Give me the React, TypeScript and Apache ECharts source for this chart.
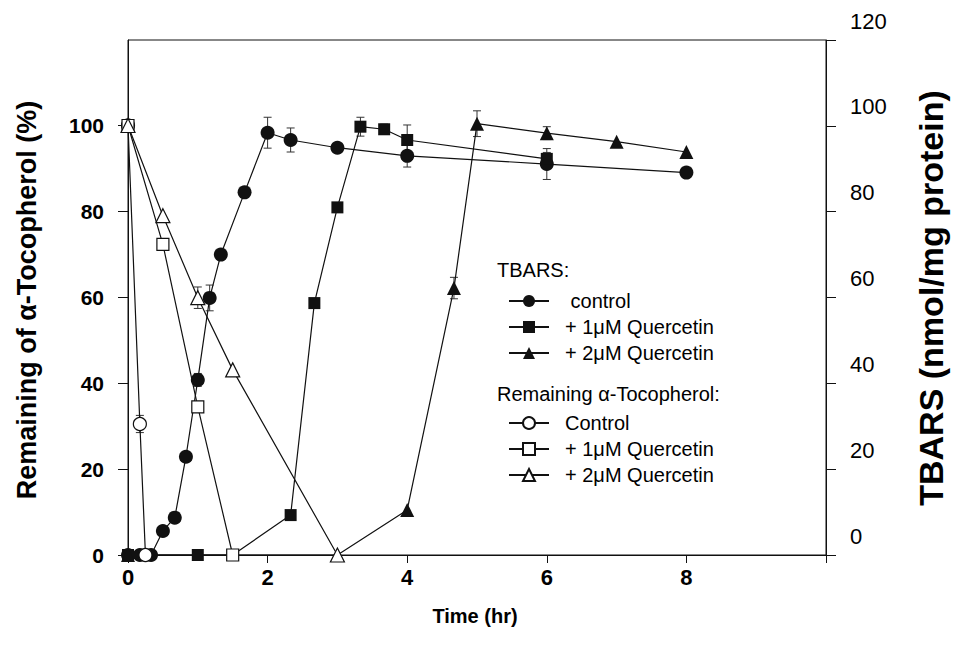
import React, { useEffect, useRef } from "react";
import * as echarts from "echarts";

// ---- Data ----
const xTicks = [0, 2, 4, 6, 8];

// TBARS (right axis, filled symbols)
const tbarsControlTimes = [0, 0.17, 0.33, 0.5, 0.67, 0.83, 1.0, 1.17, 1.33, 1.67, 2.0, 2.33, 3.0, 4.0, 6.0, 8.0];
const tbarsControlValues = [0, 0, 0, 5.6, 8.7, 22.9, 40.8, 59.9, 70, 84.5, 98.4, 96.7, 94.9, 93, 91.1, 89.1];

const tbarsQ1Times = [0, 1.0, 1.5, 2.33, 2.67, 3.0, 3.33, 3.67, 4.0, 6.0];
const tbarsQ1Values = [0, 0, 0, 9.3, 58.7, 81, 99.8, 99.2, 96.7, 92.3];

const tbarsQ2Times = [0, 3.0, 4.0, 4.67, 5.0, 6.0, 7.0, 8.0];
const tbarsQ2Values = [0, 0, 10.5, 62.2, 100.5, 98.3, 96.3, 93.9];

// Remaining alpha-tocopherol (left axis, open symbols)
const remControlTimes = [0, 0.17, 0.25];
const remControlValues = [100, 30.5, 0];

const remQ1Times = [0, 0.5, 1.0, 1.5];
const remQ1Values = [100, 72.3, 34.5, 0];

const remQ2Times = [0, 0.5, 1.0, 1.5, 3.0];
const remQ2Values = [100, 79, 59.9, 43.1, 0];

// Error bars: [time, value, half-width]
const tbarsErrors = [
  [1.0, 40.8, 1.5],
  [1.17, 59.9, 3],
  [2.0, 98.4, 3.6],
  [2.33, 96.7, 2.8],
  [4.0, 93, 2.6],
  [6.0, 91.1, 3.6],
  [3.33, 99.8, 2.2],
  [3.67, 99.2, 1.2],
  [4.0, 96.7, 3.5],
  [6.0, 92.3, 1.5],
  [4.67, 62.2, 2.5],
  [5.0, 100.5, 3],
  [6.0, 98.3, 1.5],
];
const remErrors = [
  [0.17, 30.5, 2],
  [1.0, 59.9, 2.5],
];

const SERIES_NAMES = {
  tc: "TBARS|control",
  t1: "TBARS|+ 1μM Quercetin",
  t2: "TBARS|+ 2μM Quercetin",
  rc: "REM|Control",
  r1: "REM|+ 1μM Quercetin",
  r2: "REM|+ 2μM Quercetin",
};

const zip = (xs: number[], ys: number[]) => xs.map((x, i) => [x, ys[i]]);

const FONT = "'Liberation Sans', Arial, Helvetica, sans-serif";
const INK = "#111";

export default function App() {
  const ref = useRef<HTMLDivElement>(null);

  useEffect(() => {
    if (!ref.current) return;
    const chart = echarts.init(ref.current, undefined, { renderer: "svg" });

    const errRender = (params: any, api: any) => {
      const x = api.value(0);
      const y = api.value(1);
      const e = api.value(2);
      const top = api.coord([x, y + e]);
      const bot = api.coord([x, y - e]);
      const cap = 4;
      const style = { stroke: "#333", lineWidth: 1 };
      return {
        type: "group",
        children: [
          { type: "line", shape: { x1: top[0], y1: top[1], x2: bot[0], y2: bot[1] }, style },
          { type: "line", shape: { x1: top[0] - cap, y1: top[1], x2: top[0] + cap, y2: top[1] }, style },
          { type: "line", shape: { x1: bot[0] - cap, y1: bot[1], x2: bot[0] + cap, y2: bot[1] }, style },
        ],
      };
    };

    const filled = (name: string, symbol: string, size: number, data: number[][]) => ({
      type: "line",
      name,
      yAxisIndex: 1,
      data,
      symbol,
      symbolSize: size,
      showAllSymbol: true,
      z: 3,
      lineStyle: { color: INK, width: 1.2 },
      itemStyle: { color: INK, borderColor: INK, borderWidth: 0 },
      emphasis: { disabled: true },
    });
    const open = (name: string, symbol: string, size: number, data: number[][]) => ({
      type: "line",
      name,
      yAxisIndex: 0,
      data,
      symbol,
      symbolSize: size,
      showAllSymbol: true,
      z: 4,
      lineStyle: { color: INK, width: 1.2 },
      itemStyle: { color: "#fff", borderColor: INK, borderWidth: 1.2 },
      emphasis: { disabled: true },
    });

    const legendFormatter = (name: string) => {
      const label = name.split("|")[1];
      return label === "control" ? "\u00a0control" : label;
    };
    const legendBase = {
      orient: "vertical",
      left: 503,
      itemWidth: 40,
      itemHeight: 15,
      itemGap: 6,
      selectedMode: false,
      formatter: legendFormatter,
      textStyle: { fontSize: 20, color: "#000", fontFamily: FONT, padding: [0, 0, 0, 11] },
    };

    const option: any = {
      animation: false,
      backgroundColor: "#fff",
      grid: {
        left: 128,
        right: 129,
        top: 40,
        bottom: 99,
        show: true,
        borderColor: INK,
        borderWidth: 1,
        backgroundColor: "transparent",
        outerBoundsMode: "none",
      },
      xAxis: {
        type: "value",
        min: 0,
        max: 10,
        interval: 2,
        axisLine: { show: true, lineStyle: { color: INK, width: 1 } },
        axisTick: { show: true, length: 8, lineStyle: { color: INK } },
        splitLine: { show: false },
        axisLabel: {
          margin: 11,
          fontSize: 22,
          fontWeight: "bold",
          color: "#000",
          fontFamily: FONT,
          formatter: (v: number) => (xTicks.includes(v) ? String(v) : ""),
        },
      },
      yAxis: [
        {
          type: "value",
          min: 0,
          max: 119.9,
          interval: 20,
          position: "left",
          axisLine: { show: true, lineStyle: { color: INK, width: 1 } },
          axisTick: { show: true, length: 10, lineStyle: { color: INK } },
          splitLine: { show: false },
          axisLabel: {
            margin: 24,
            fontSize: 21,
            fontWeight: "bold",
            color: "#000",
            fontFamily: FONT,
            showMaxLabel: false,
            formatter: (v: number) => (v <= 100 ? String(v) : ""),
          },
        },
        {
          type: "value",
          min: 0,
          max: 120,
          interval: 20,
          position: "right",
          axisLine: { show: true, lineStyle: { color: INK, width: 1 } },
          axisTick: { show: true, length: 10, lineStyle: { color: INK } },
          splitLine: { show: false },
          axisLabel: {
            margin: 24,
            fontSize: 22,
            color: "#000",
            fontFamily: FONT,
            verticalAlign: "bottom",
            lineHeight: 38,
          },
        },
      ],
      legend: [
        {
          ...legendBase,
          top: 286,
          data: [SERIES_NAMES.tc, SERIES_NAMES.t1, SERIES_NAMES.t2],
        },
        {
          ...legendBase,
          top: 408,
          data: [SERIES_NAMES.rc, SERIES_NAMES.r1, SERIES_NAMES.r2],
        },
      ],
      graphic: [
        {
          type: "text",
          left: 497,
          top: 260,
          style: { text: "TBARS:", fontSize: 20, fill: "#000", fontFamily: FONT },
        },
        {
          type: "text",
          left: 497,
          top: 384,
          style: { text: "Remaining α-Tocopherol:", fontSize: 20, fill: "#000", fontFamily: FONT },
        },
        {
          type: "text",
          x: 27,
          y: 300,
          rotation: Math.PI / 2,
          style: {
            text: "Remaining of α-Tocopherol (%)",
            fontSize: 27,
            fontWeight: "bold",
            fill: "#000",
            fontFamily: FONT,
            align: "center",
            verticalAlign: "middle",
          },
        },
        {
          type: "text",
          x: 931,
          y: 298,
          rotation: Math.PI / 2,
          style: {
            text: "TBARS (nmol/mg protein)",
            fontSize: 34,
            fontWeight: "bold",
            fill: "#000",
            fontFamily: FONT,
            align: "center",
            verticalAlign: "middle",
          },
        },
        {
          type: "text",
          x: 475,
          y: 616,
          style: {
            text: "Time (hr)",
            fontSize: 20,
            fontWeight: "bold",
            fill: "#000",
            fontFamily: FONT,
            align: "center",
            verticalAlign: "middle",
          },
        },
      ],
      series: [
        {
          type: "custom",
          name: "tbarsErr",
          yAxisIndex: 1,
          data: tbarsErrors,
          encode: { x: 0, y: 1 },
          renderItem: errRender,
          z: 2,
          silent: true,
        },
        {
          type: "custom",
          name: "remErr",
          yAxisIndex: 0,
          data: remErrors,
          encode: { x: 0, y: 1 },
          renderItem: errRender,
          z: 2,
          silent: true,
        },
        filled(SERIES_NAMES.tc, "circle", 14, zip(tbarsControlTimes, tbarsControlValues)),
        filled(SERIES_NAMES.t1, "rect", 12, zip(tbarsQ1Times, tbarsQ1Values)),
        filled(SERIES_NAMES.t2, "triangle", 14, zip(tbarsQ2Times, tbarsQ2Values)),
        open(SERIES_NAMES.rc, "circle", 13, zip(remControlTimes, remControlValues)),
        open(SERIES_NAMES.r1, "rect", 12, zip(remQ1Times, remQ1Values)),
        open(SERIES_NAMES.r2, "triangle", 14, zip(remQ2Times, remQ2Values)),
      ],
    };

    chart.setOption(option);
    return () => chart.dispose();
  }, []);

  return (
    <div
      ref={ref}
      style={{ position: "fixed", left: 0, top: 0, width: 955, height: 654, background: "#fff" }}
    />
  );
}
